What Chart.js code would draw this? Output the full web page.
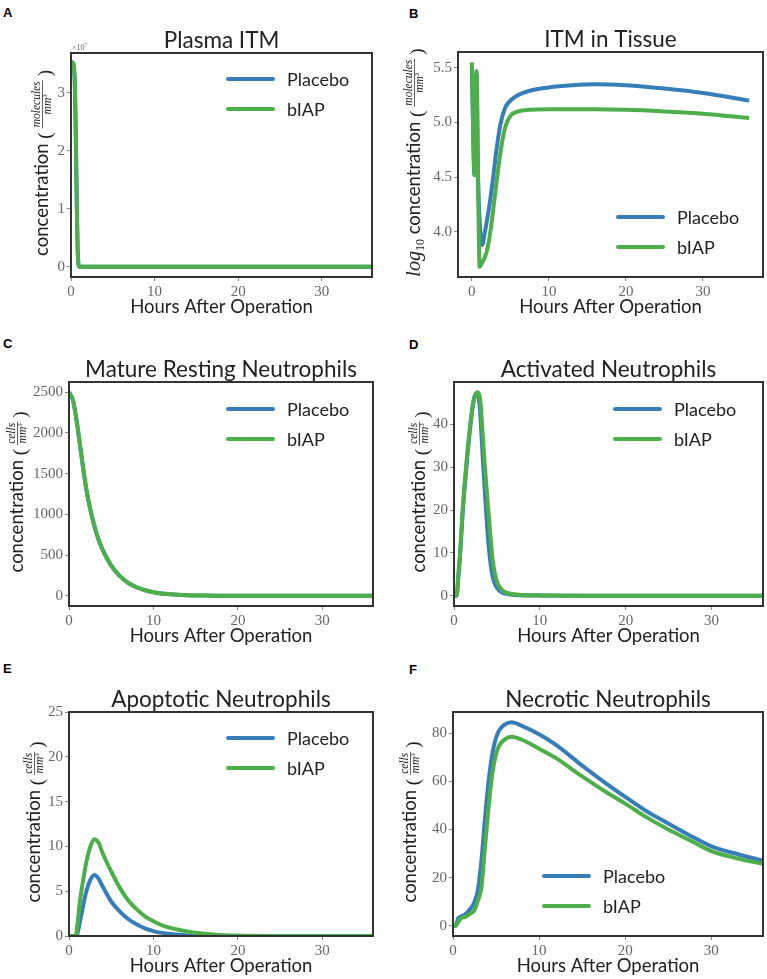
<!DOCTYPE html>
<html>
<head>
<meta charset="utf-8">
<script src="https://cdn.jsdelivr.net/npm/chart.js@4.4.1/dist/chart.umd.min.js"></script>
<style>
  body { margin: 0; background: #fff; width: 767px; height: 979px; position: relative; overflow: hidden; }
  .cell { position: absolute; }
  .tag { position: absolute; font: bold 13px "Liberation Sans", Arial, sans-serif; line-height: 13px; color: #000; }
</style>
</head>
<body>
<div class="tag" style="left:3px;top:6px">A</div>
<div class="tag" style="left:409px;top:7px">B</div>
<div class="tag" style="left:3px;top:337px">C</div>
<div class="tag" style="left:409px;top:338px">D</div>
<div class="tag" style="left:3px;top:662px">E</div>
<div class="tag" style="left:409px;top:663px">F</div>

<div class="cell" style="left:0;top:0;width:383px;height:330px"><canvas id="chartA"></canvas></div>
<div class="cell" style="left:383px;top:0;width:384px;height:330px"><canvas id="chartB"></canvas></div>
<div class="cell" style="left:0;top:320px;width:383px;height:330px"><canvas id="chartC"></canvas></div>
<div class="cell" style="left:383px;top:320px;width:384px;height:330px"><canvas id="chartD"></canvas></div>
<div class="cell" style="left:0;top:640px;width:383px;height:339px"><canvas id="chartE"></canvas></div>
<div class="cell" style="left:383px;top:640px;width:384px;height:339px"><canvas id="chartF"></canvas></div>

<script>
const hourTicks = [0, 10, 20, 30];

// A - Plasma ITM (molecules / mm^3)
const plasmaHours = [0, 0.2, 0.35, 0.45, 0.55, 0.65, 0.75, 0.85, 0.95, 1.1, 2, 5, 10, 20, 30, 36];
const plasmaPlacebo = [3.53e7, 3.52e7, 3.45e7, 3.2e7, 2.5e7, 1.5e7, 0.6e7, 0.12e7, 0.01e7, 0, 0, 0, 0, 0, 0, 0];
const plasmaBiap = [3.53e7, 3.52e7, 3.45e7, 3.2e7, 2.5e7, 1.5e7, 0.6e7, 0.12e7, 0.01e7, 0, 0, 0, 0, 0, 0, 0];
const plasmaTicks = [0, 1e7, 2e7, 3e7];

// B - ITM in tissue (log10)
const tissueHours = [0, 0.35, 0.6, 0.8, 1.0, 1.35, 1.7, 2.0, 2.4, 2.8, 3.2, 3.7, 4.3, 5.0, 6.0, 7.5, 10, 13, 16, 20, 25, 30, 36];
const tissuePlacebo = [5.5, 4.52, 5.45, 4.5, 4.12, 3.88, 4.0, 4.12, 4.3, 4.52, 4.75, 4.98, 5.13, 5.2, 5.25, 5.29, 5.32, 5.34, 5.35, 5.34, 5.31, 5.27, 5.2];
const tissueBiap = [5.55, 4.52, 5.47, 4.5, 3.68, 3.72, 3.77, 3.84, 4.0, 4.22, 4.45, 4.72, 4.95, 5.06, 5.1, 5.115, 5.12, 5.12, 5.12, 5.115, 5.1, 5.08, 5.04];
const tissueTicks = [4.0, 4.5, 5.0, 5.5];

// C - Mature resting neutrophils
const restingHours = [0, 0.5, 1, 1.5, 2, 2.5, 3, 3.5, 4, 5, 6, 7, 8, 9, 10, 12, 14, 17, 20, 36];
const restingPlacebo = [2500, 2390, 2080, 1700, 1340, 1070, 860, 690, 560, 370, 245, 160, 105, 68, 44, 18, 7, 2, 0, 0];
const restingBiap = [2500, 2390, 2080, 1700, 1340, 1070, 860, 690, 560, 370, 245, 160, 105, 68, 44, 18, 7, 2, 0, 0];
const restingTicks = [0, 500, 1000, 1500, 2000, 2500];

// D - Activated neutrophils
const activatedHours = [0, 0.3, 0.5, 0.7, 1.0, 1.4, 1.9, 2.3, 2.7, 3.0, 3.3, 3.6, 3.9, 4.2, 4.5, 4.9, 5.4, 6, 7, 8, 10, 15, 20, 36];
const activatedPlacebo = [0, 0, 4, 9, 19, 29, 39.5, 45.8, 47.3, 44, 34, 24, 15, 8.5, 4.5, 2.2, 1, 0.5, 0.2, 0.1, 0.05, 0, 0, 0];
const activatedBiap = [0, 0, 5, 10, 20, 30, 40, 45.5, 47.5, 46.5, 39, 30, 22.5, 15, 8.5, 4, 1.8, 0.8, 0.35, 0.2, 0.1, 0.03, 0, 0];
const activatedTicks = [0, 10, 20, 30, 40];

// E - Apoptotic neutrophils
const apoptoticHours = [0, 0.8, 1.0, 1.3, 1.6, 2.0, 2.5, 3.0, 3.5, 4.0, 5.0, 6.0, 7.0, 8.0, 9.0, 10, 11, 12, 14, 16, 18, 20, 25, 30, 36];
const apoptoticPlacebo = [0, 0, 0.3, 1.6, 3.0, 4.8, 6.2, 6.8, 6.4, 5.5, 3.85, 2.75, 1.9, 1.3, 0.85, 0.55, 0.35, 0.22, 0.06, 0.01, 0, 0, 0, 0, 0];
const apoptoticBiap = [0, 0, 1.3, 3.9, 5.8, 8.0, 9.9, 10.8, 10.4, 9.2, 7.2, 5.4, 4.0, 3.0, 2.2, 1.65, 1.2, 0.9, 0.5, 0.25, 0.12, 0.06, 0.01, 0, 0];
const apoptoticTicks = [0, 5, 10, 15, 20, 25];

// F - Necrotic neutrophils
const necroticHours = [0, 0.3, 0.6, 0.9, 1.5, 2.0, 2.5, 2.9, 3.3, 3.7, 4.1, 4.6, 5.2, 6.0, 6.8, 8.0, 10, 12, 15, 18, 20, 22.5, 25, 27.5, 30, 33, 36];
const necroticPlacebo = [0, 0, 3.2, 3.8, 5.0, 7.0, 10, 15, 27, 44, 59, 72, 80, 83.5, 84.5, 83, 79.5, 75, 66.5, 58.5, 53.5, 47.5, 42.5, 37.5, 33, 29.8, 27];
const necroticBiap = [0, 0, 1.5, 3.0, 3.8, 5.0, 6.6, 10.5, 16, 32, 48, 64, 73.5, 77.3, 78.5, 77.2, 73.5, 69.5, 62, 55, 50.7, 45, 40, 35.5, 31, 28, 25.7];
const necroticTicks = [0, 20, 40, 60, 80];

const BLUE = "#377eb8";
const GREEN = "#4daf4a";
const SANS = "Lato, 'Open Sans', sans-serif";
const SERIF = "'Liberation Serif', 'DejaVu Serif', serif";

function drawYLabel(ctx, x, y, o) {
  ctx.save();
  ctx.translate(x, y);
  ctx.rotate(-Math.PI / 2);
  ctx.textAlign = "left";
  ctx.textBaseline = "alphabetic";
  ctx.fillStyle = "#222";

  const mainFont = "18.5px " + SANS;
  const mathFont = "italic 11.5px " + SERIF;
  const supFont = "7px " + SERIF;
  const parenFont = "19px " + SERIF;
  const gap = 4;

  let logW = 0, subW = 0;
  if (o.log) {
    ctx.font = "italic 20px " + SERIF;
    logW = ctx.measureText("log").width;
    ctx.font = "12px " + SERIF;
    subW = ctx.measureText("10").width;
  }
  ctx.font = mainFont;
  const mainW = ctx.measureText("concentration").width;
  const spW = ctx.measureText(" ").width;
  ctx.font = mathFont;
  const numW = ctx.measureText(o.num).width;
  const mmW = ctx.measureText("mm").width;
  ctx.font = supFont;
  const supW = ctx.measureText("3").width;
  const denW = mmW + supW;
  const fracW = Math.max(numW, denW) + 2;
  ctx.font = parenFont;
  const pW = ctx.measureText("(").width;

  const total = (o.log ? logW + subW + spW : 0) + mainW + spW + pW * 2 + fracW + gap * 2;
  let cx = -total / 2;

  if (o.log) {
    ctx.font = "italic 20px " + SERIF;
    ctx.fillText("log", cx, 0);
    cx += logW;
    ctx.font = "12px " + SERIF;
    ctx.fillText("10", cx, 4);
    cx += subW + spW;
  }
  ctx.font = mainFont;
  ctx.fillText("concentration", cx, 0);
  cx += mainW + spW;
  ctx.font = parenFont;
  ctx.fillText("(", cx, 2.5);
  cx += pW + gap;
  ctx.font = mathFont;
  ctx.fillText(o.num, cx + (fracW - numW) / 2, -7.8);
  ctx.fillRect(cx, -6, fracW, 0.7);
  const dx = cx + (fracW - denW) / 2;
  ctx.fillText("mm", dx, 2.8);
  ctx.font = supFont;
  ctx.fillText("3", dx + mmW, -1);
  cx += fracW + gap;
  ctx.font = parenFont;
  ctx.fillText(")", cx, 2.5);
  ctx.restore();
}

const decor = {
  id: "decor",
  afterDatasetsDraw(chart, args, opts) {
    const { ctx, chartArea: a } = chart;
    ctx.save();
    // frame
    ctx.strokeStyle = "#333";
    ctx.lineWidth = 2;
    ctx.strokeRect(a.left, a.top, a.right - a.left, a.bottom - a.top);

    // title and x label
    const mid = (a.left + a.right) / 2;
    ctx.fillStyle = "#222";
    ctx.textAlign = "center";
    ctx.textBaseline = "alphabetic";
    ctx.font = "22.5px " + SANS;
    ctx.fillText(opts.title, mid, a.top - 5);
    ctx.font = "18.5px " + SANS;
    ctx.fillText("Hours After Operation", mid, a.bottom + 36);

    // exponent marker
    if (opts.exponent) {
      ctx.fillStyle = "#666";
      ctx.textAlign = "left";
      ctx.font = "8px " + SERIF;
      ctx.fillText("×10", a.left + 1, a.top - 3);
      const w = ctx.measureText("×10").width;
      ctx.font = "5.5px " + SERIF;
      ctx.fillText(opts.exponent, a.left + 1 + w, a.top - 6);
    }

    drawYLabel(ctx, a.left - opts.yGap, (a.top + a.bottom) / 2 - 2, opts);

    // legend
    const lg = opts.legend;
    chart.data.datasets.forEach((ds, i) => {
      const y = lg.y + i * 30;
      ctx.strokeStyle = ds.borderColor;
      ctx.lineWidth = 4;
      ctx.lineCap = "round";
      ctx.beginPath();
      ctx.moveTo(lg.x, y);
      ctx.lineTo(lg.x + 45, y);
      ctx.stroke();
      ctx.fillStyle = "#222";
      ctx.font = "18px " + SANS;
      ctx.textAlign = "left";
      ctx.textBaseline = "middle";
      ctx.fillText(ds.label, lg.x + 59, y + 1);
    });
    ctx.restore();
  },
};

function points(hours, values) {
  return hours.map((h, i) => ({ x: h, y: values[i] }));
}

function axis(min, max, tickValues, fmt, fit) {
  return {
    type: "linear",
    min: min,
    max: max,
    afterFit: fit,
    afterBuildTicks: (s) => { s.ticks = tickValues.map((v) => ({ value: v })); },
    border: { display: false },
    grid: { display: true, drawOnChartArea: false, drawTicks: true, tickLength: 4, color: "#888" },
    ticks: {
      autoSkip: false,
      maxRotation: 0,
      padding: 2,
      color: "#666",
      font: { family: SERIF, size: 15 },
      callback: fmt,
    },
  };
}

function makeChart(p) {
  const xAxisH = p.cellH - p.plotBottom;
  return new Chart(document.getElementById(p.id), {
    type: "line",
    data: {
      datasets: [
        { label: "Placebo", data: points(p.hours, p.placebo), borderColor: BLUE, order: 1 },
        { label: "bIAP", data: points(p.hours, p.biap), borderColor: GREEN, order: 0 },
      ],
    },
    options: {
      responsive: true,
      maintainAspectRatio: false,
      animation: false,
      layout: { padding: { top: p.plotTop, right: p.padRight, left: 0, bottom: 0 } },
      elements: {
        line: { borderWidth: 4, cubicInterpolationMode: "monotone", fill: false, borderJoinStyle: "round" },
        point: { radius: 0, hoverRadius: 0 },
      },
      plugins: {
        legend: { display: false },
        tooltip: { enabled: false },
        decor: p.decor,
      },
      scales: {
        x: axis(p.xMin, p.xMax, hourTicks, (v) => v, (s) => { s.height = xAxisH; }),
        y: axis(p.yMin, p.yMax, p.yTicks, p.yFmt, (s) => { s.width = p.plotLeft; }),
      },
    },
    plugins: [decor],
  });
}

const intFmt = (v) => Math.round(v);

makeChart({
  id: "chartA", hours: plasmaHours, placebo: plasmaPlacebo, biap: plasmaBiap, yTicks: plasmaTicks,
  cellH: 330, plotLeft: 71, plotTop: 53, plotBottom: 277, padRight: 11,
  xMin: 0, xMax: 36, yMin: -0.175e7, yMax: 3.69e7, yFmt: (v) => Math.round(v / 1e7),
  decor: { title: "Plasma ITM", num: "molecules", yGap: 23, exponent: "7", legend: { x: 228, y: 79 } },
});
makeChart({
  id: "chartB", hours: tissueHours, placebo: tissuePlacebo, biap: tissueBiap, yTicks: tissueTicks,
  cellH: 330, plotLeft: 75, plotTop: 52, plotBottom: 277, padRight: 4,
  xMin: -1.8, xMax: 37.8, yMin: 3.587, yMax: 5.644, yFmt: (v) => v.toFixed(1),
  decor: { title: "ITM in Tissue", num: "molecules", yGap: 38, log: true, legend: { x: 235, y: 217 } },
});
makeChart({
  id: "chartC", hours: restingHours, placebo: restingPlacebo, biap: restingBiap, yTicks: restingTicks,
  cellH: 330, plotLeft: 69, plotTop: 62, plotBottom: 286, padRight: 10,
  xMin: 0, xMax: 36, yMin: -125, yMax: 2625, yFmt: intFmt,
  decor: { title: "Mature Resting Neutrophils", num: "cells", yGap: 46, legend: { x: 228, y: 89 } },
});
makeChart({
  id: "chartD", hours: activatedHours, placebo: activatedPlacebo, biap: activatedBiap, yTicks: activatedTicks,
  cellH: 330, plotLeft: 71, plotTop: 62, plotBottom: 286, padRight: 4,
  xMin: 0, xMax: 36, yMin: -2.375, yMax: 49.875, yFmt: intFmt,
  decor: { title: "Activated Neutrophils", num: "cells", yGap: 29, legend: { x: 232, y: 89 } },
});
makeChart({
  id: "chartE", hours: apoptoticHours, placebo: apoptoticPlacebo, biap: apoptoticBiap, yTicks: apoptoticTicks,
  cellH: 339, plotLeft: 69, plotTop: 72, plotBottom: 296, padRight: 10,
  xMin: 0, xMax: 36, yMin: 0, yMax: 25, yFmt: intFmt,
  decor: { title: "Apoptotic Neutrophils", num: "cells", yGap: 29, legend: { x: 228, y: 98 } },
});
makeChart({
  id: "chartF", hours: necroticHours, placebo: necroticPlacebo, biap: necroticBiap, yTicks: necroticTicks,
  cellH: 339, plotLeft: 70, plotTop: 72, plotBottom: 296, padRight: 4,
  xMin: 0, xMax: 36, yMin: -4.225, yMax: 88.725, yFmt: intFmt,
  decor: { title: "Necrotic Neutrophils", num: "cells", yGap: 37, legend: { x: 161, y: 236 } },
});
</script>
</body>
</html>
